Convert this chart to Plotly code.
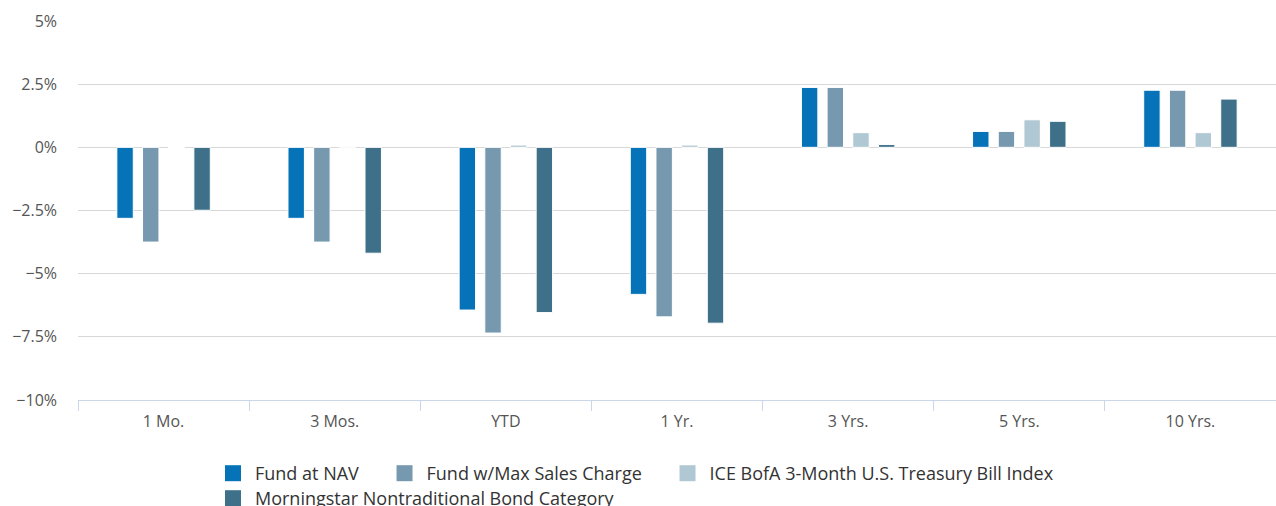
import plotly.graph_objects as go

categories = ["1 Mo.", "3 Mos.", "YTD", "1 Yr.", "3 Yrs.", "5 Yrs.", "10 Yrs."]
fund_nav = [-2.81, -2.81, -6.44, -5.82, 2.37, 0.63, 2.26]
fund_max = [-3.75, -3.75, -7.35, -6.71, 2.37, 0.63, 2.26]
ice_bofa = [0.0, 0.03, 0.09, 0.09, 0.58, 1.09, 0.58]
morningstar = [-2.49, -4.19, -6.54, -6.96, 0.11, 1.03, 1.91]

series_names = ["Fund at NAV", "Fund w/Max Sales Charge",
                "ICE BofA 3-Month U.S. Treasury Bill Index",
                "Morningstar Nontraditional Bond Category"]
series_values = [fund_nav, fund_max, ice_bofa, morningstar]
colors = ["#0673B9", "#7799B0", "#B0C8D4", "#3E7189"]
legend_rows = ["legend", "legend", "legend", "legend2"]

y_tickvals = [5, 2.5, 0, -2.5, -5, -7.5, -10]
y_ticktext = ["5%", "2.5%", "0%", "\u22122.5%", "\u22125%", "\u22127.5%", "\u221210%"]

PAD = "\u00a0" * 4  # extra spacing after each legend entry

fig = go.Figure()
for name, vals, col in zip(series_names, series_values, colors):
    fig.add_trace(go.Bar(
        x=categories, y=vals, name=name, showlegend=False,
        marker=dict(color=col, line=dict(color="#ffffff", width=1)),
    ))
# legend entries with larger square swatches
for name, col, lg in zip(series_names, colors, legend_rows):
    fig.add_trace(go.Scatter(
        x=[None], y=[None], mode="markers", name=name + PAD, legend=lg,
        marker=dict(symbol="square", size=16, color=col),
    ))

legend_common = dict(orientation="h", xref="paper", yref="container",
                     x=(211 - 78) / 1198, xanchor="left", yanchor="top",
                     bgcolor="rgba(0,0,0,0)",
                     font=dict(size=18, color="#333333"), itemclick=False,
                     tracegroupgap=0, itemwidth=34)

fig.update_layout(
    width=1276, height=506,
    margin=dict(l=78, r=0, t=21, b=106),
    paper_bgcolor="white", plot_bgcolor="white",
    barmode="group", bargap=0.4, bargroupgap=0.36,
    font=dict(family="Open Sans, sans-serif", color="#333333"),
    showlegend=True,
    legend=dict(y=1 - 455 / 506, **legend_common),
    legend2=dict(y=1 - 480 / 506, **legend_common),
)
fig.update_xaxes(
    type="category", tickson="boundaries", ticks="outside", ticklen=10,
    tickcolor="#ccd6eb", showline=True, linecolor="#ccd6eb", linewidth=1,
    showgrid=False, tickfont=dict(size=16, color="#555555"), automargin=False,
    ticklabelstandoff=7,
)
fig.update_yaxes(
    range=[-10, 5], tickvals=y_tickvals, ticktext=y_ticktext,
    showgrid=True, gridcolor="#d8d8d8", gridwidth=1,
    zeroline=True, zerolinecolor="#d8d8d8", zerolinewidth=1,
    tickfont=dict(size=16, color="#555555"), ticks="", ticklabelstandoff=20,
    automargin=False,
)

fig.write_html("out.html", config={"displayModeBar": False},
               post_script="document.body.style.margin='0';")
